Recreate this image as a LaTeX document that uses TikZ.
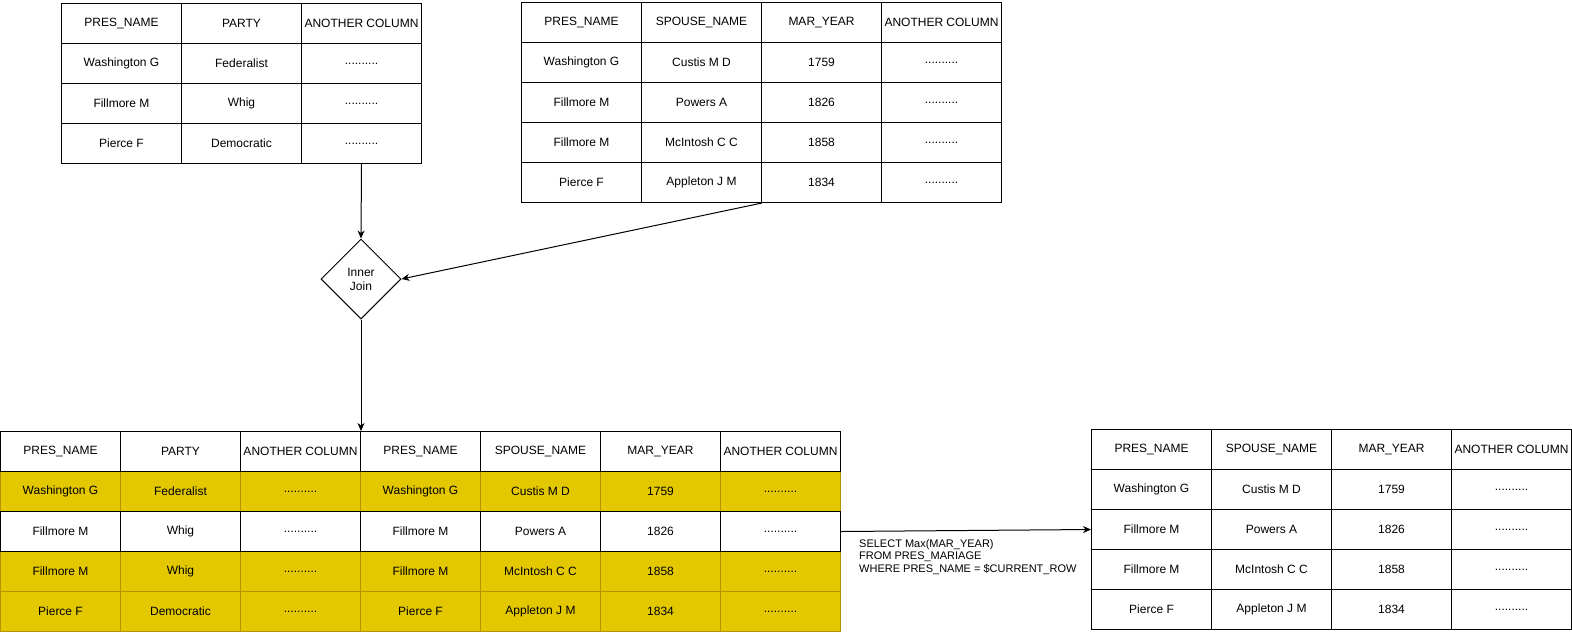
\documentclass[tikz,border=0pt]{standalone}
\usepackage{fontspec}
\setmainfont{Liberation Sans}
\usetikzlibrary{shapes.geometric,arrows.meta}
\definecolor{hlfill}{HTML}{E3C800}
\definecolor{hldraw}{HTML}{B09500}
\newcommand{\cellrow}[5]{%
  \foreach \t [count=\i from 0] in {#5} {
    \node[cell,#4] (#1-\i) at ({#2+120*\i},#3) {\t};
  }%
}
\begin{document}
\begin{tikzpicture}[x=1pt,y=-1pt,
  cell/.style={draw=black,fill=white,line width=1pt,minimum width=120pt,minimum height=40pt,
    inner sep=0pt,anchor=north west,font=\fontsize{12}{14}\selectfont},
  hl/.style={fill=hlfill,draw=hldraw},
  arr/.style={line width=1pt,-{Stealth[length=8pt,width=7pt,inset=2.5pt]}}]
\useasboundingbox[fill=white] (0,0) rectangle (1572,633);
\def\dots{..........}
% top-left table
\cellrow{tl-0}{61}{3}{}{PRES\_NAME,PARTY,ANOTHER COLUMN}
\cellrow{tl-1}{61}{43}{}{Washington G,Federalist,\dots}
\cellrow{tl-2}{61}{83}{}{Fillmore M,Whig,\dots}
\cellrow{tl-3}{61}{123}{}{Pierce F,Democratic,\dots}
% top-right table
\cellrow{tr-0}{521}{2}{}{PRES\_NAME,SPOUSE\_NAME,MAR\_YEAR,ANOTHER COLUMN}
\cellrow{tr-1}{521}{42}{}{Washington G,Custis M D,1759,\dots}
\cellrow{tr-2}{521}{82}{}{Fillmore M,Powers A,1826,\dots}
\cellrow{tr-3}{521}{122}{}{Fillmore M,McIntosh C C,1858,\dots}
\cellrow{tr-4}{521}{162}{}{Pierce F,Appleton J M,1834,\dots}
% join
\node[draw,diamond,aspect=1,minimum width=80pt,minimum height=80pt,inner sep=0pt,line width=1pt,
  align=center,font=\fontsize{12}{14}\selectfont] (join) at (361,279) {Inner\\Join};
% bottom joined table
\cellrow{bt-1}{0}{471}{hl}{Washington G,Federalist,\dots,Washington G,Custis M D,1759,\dots}
\cellrow{bt-3}{0}{551}{hl}{Fillmore M,Whig,\dots,Fillmore M,McIntosh C C,1858,\dots}
\cellrow{bt-4}{0}{591}{hl}{Pierce F,Democratic,\dots,Pierce F,Appleton J M,1834,\dots}
\cellrow{bt-0}{0}{431}{}{PRES\_NAME,PARTY,ANOTHER COLUMN,PRES\_NAME,SPOUSE\_NAME,MAR\_YEAR,ANOTHER COLUMN}
\cellrow{bt-2}{0}{511}{}{Fillmore M,Whig,\dots,Fillmore M,Powers A,1826,\dots}
% right table
\cellrow{rt-0}{1091}{429}{}{PRES\_NAME,SPOUSE\_NAME,MAR\_YEAR,ANOTHER COLUMN}
\cellrow{rt-1}{1091}{469}{}{Washington G,Custis M D,1759,\dots}
\cellrow{rt-2}{1091}{509}{}{Fillmore M,Powers A,1826,\dots}
\cellrow{rt-3}{1091}{549}{}{Fillmore M,McIntosh C C,1858,\dots}
\cellrow{rt-4}{1091}{589}{}{Pierce F,Appleton J M,1834,\dots}
% label
\node[anchor=north west,align=left,inner sep=0pt,font=\fontsize{11}{12.5}\selectfont] (sql) at (859,539)
  {SELECT Max(MAR\_YEAR)\\FROM PRES\_MARIAGE\\WHERE PRES\_NAME = \$CURRENT\_ROW};
% connectors
\draw[arr] (tl-3-2.south) -- (join.north);
\draw[arr] (tr-4-1.south east) -- (join.east);
\draw[arr] (join.south) -- (bt-0-2.north east);
\draw[arr] (bt-2-6.east) -- (rt-2-0.west);
\end{tikzpicture}
\end{document}
